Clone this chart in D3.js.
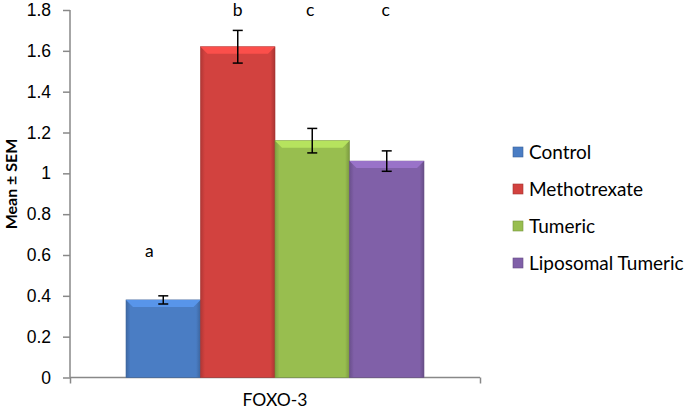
<!DOCTYPE html>
<html>
<head>
<meta charset="utf-8">
<script src="https://cdn.jsdelivr.net/npm/d3@7"></script>
<style>
  body { margin: 0; background: #fff; }
  svg { font-family: Lato, "Open Sans", "Liberation Sans", sans-serif; }
</style>
</head>
<body>
<svg id="chart" width="685" height="410"></svg>
<script>
const groups = ["Control", "Methotrexate", "Tumeric", "Liposomal Tumeric"];
const means = [0.38, 1.62, 1.16, 1.06];
const sems = [0.02, 0.08, 0.06, 0.05];
const letters = ["a", "b", "c", "c"];
const yTicks = [0, 0.2, 0.4, 0.6, 0.8, 1, 1.2, 1.4, 1.6, 1.8];
const category = "FOXO-3";
const colors = ["#4a7dc4", "#d2423f", "#98be4f", "#8060a8"];

const svg = d3.select("#chart");
const plot = { left: 70, right: 480, top: 10, bottom: 377.5 };

const yScale = d3.scaleLinear().domain([0, 1.8]).range([plot.bottom, plot.top]);
const xCat = d3.scaleBand().domain([category]).range([plot.left, plot.right]).paddingInner(0).paddingOuter(0.188);
const xBar = d3.scaleBand().domain(groups).range([xCat(category), xCat(category) + xCat.bandwidth()]);

const defs = svg.append("defs");
colors.forEach((c, i) => {
    const g = defs.append("linearGradient").attr("id", "grad" + i).attr("x1", 0).attr("x2", 1).attr("y1", 0).attr("y2", 0);
    g.append("stop").attr("offset", "0%").attr("stop-color", d3.color(c).darker(0.5));
    g.append("stop").attr("offset", "6%").attr("stop-color", c);
    g.append("stop").attr("offset", "94%").attr("stop-color", c);
    g.append("stop").attr("offset", "100%").attr("stop-color", d3.color(c).darker(0.6));
});

// y axis
const yAxis = d3.axisLeft(yScale).tickValues(yTicks).tickSize(7).tickPadding(12).tickFormat(d => String(+d.toFixed(1)));
const yg = svg.append("g").attr("transform", `translate(${plot.left},0)`).call(yAxis);
yg.select(".domain").attr("stroke", "#888").attr("stroke-width", 1.5).attr("d", `M0,${plot.top}V${plot.bottom}`);
yg.selectAll(".tick line").attr("stroke", "#888").attr("stroke-width", 1.5);
yg.selectAll(".tick text").attr("font-size", 17.5).attr("fill", "#000").attr("font-family", "inherit");

// x axis
const xg = svg.append("g").attr("transform", `translate(0,${plot.bottom})`)
    .call(d3.axisBottom(d3.scaleLinear().domain([0, 1]).range([plot.left, plot.right])).tickValues([0, 1]).tickSize(6).tickFormat(""));
xg.select(".domain").attr("stroke", "#888").attr("stroke-width", 1.5).attr("d", `M${plot.left},0H${plot.right}`);
xg.selectAll(".tick line").attr("stroke", "#888").attr("stroke-width", 1.5);
svg.append("text").attr("x", xCat(category) + xCat.bandwidth() / 2).attr("y", plot.bottom + 28)
    .attr("text-anchor", "middle").attr("font-size", 17.5).text(category);

// y title
svg.append("text").attr("transform", "translate(17,184) rotate(-90)")
    .attr("text-anchor", "middle").attr("font-size", 16).attr("font-weight", "bold").text("Mean ± SEM");

// bars
const bars = svg.append("g").selectAll("g").data(groups).enter().append("g");
bars.append("rect")
    .attr("x", d => xBar(d))
    .attr("y", (d, i) => yScale(means[i]))
    .attr("width", xBar.bandwidth())
    .attr("height", (d, i) => plot.bottom - yScale(means[i]))
    .attr("fill", (d, i) => `url(#grad${i})`)
    .attr("stroke", (d, i) => d3.color(colors[i]).darker(0.7))
    .attr("stroke-width", 0.6);
// bevel highlight on top
bars.append("path")
    .attr("d", (d, i) => {
        const x0 = xBar(d), x1 = x0 + xBar.bandwidth(), y0 = yScale(means[i]);
        return `M${x0},${y0}H${x1}L${x1 - 7},${y0 + 7}H${x0 + 7}Z`;
    })
    .attr("fill", (d, i) => d3.color(colors[i]).brighter(0.5));

// error bars
const err = svg.append("g").selectAll("g").data(groups).enter().append("g").attr("stroke", "#000").attr("stroke-width", 1.5);
err.append("line")
    .attr("x1", d => xBar(d) + xBar.bandwidth() / 2).attr("x2", d => xBar(d) + xBar.bandwidth() / 2)
    .attr("y1", (d, i) => yScale(means[i] + sems[i])).attr("y2", (d, i) => yScale(means[i] - sems[i]));
[1, -1].forEach(s => {
    err.append("line")
        .attr("x1", d => xBar(d) + xBar.bandwidth() / 2 - 5).attr("x2", d => xBar(d) + xBar.bandwidth() / 2 + 5)
        .attr("y1", (d, i) => yScale(means[i] + s * sems[i])).attr("y2", (d, i) => yScale(means[i] + s * sems[i]));
});

// significance letters
const letterDx = [-14, 0, -2, -1];
svg.append("g").selectAll("text").data(groups).enter().append("text")
    .attr("x", (d, i) => xBar(d) + xBar.bandwidth() / 2 + letterDx[i])
    .attr("y", (d, i) => i === 0 ? 257 : 16)
    .attr("text-anchor", "middle").attr("font-size", 17.5).text((d, i) => letters[i]);

// legend
const legend = svg.append("g").attr("transform", "translate(513,152)");
const li = legend.selectAll("g").data(groups).enter().append("g").attr("transform", (d, i) => `translate(0,${i * 37})`);
li.append("rect").attr("x", 0).attr("y", -5).attr("width", 10).attr("height", 10)
    .attr("fill", (d, i) => colors[i]).attr("stroke", (d, i) => d3.color(colors[i]).darker(0.7)).attr("stroke-width", 0.6);
li.append("text").attr("x", 16).attr("y", 6.5).attr("font-size", 19).text(d => d);
</script>
</body>
</html>
